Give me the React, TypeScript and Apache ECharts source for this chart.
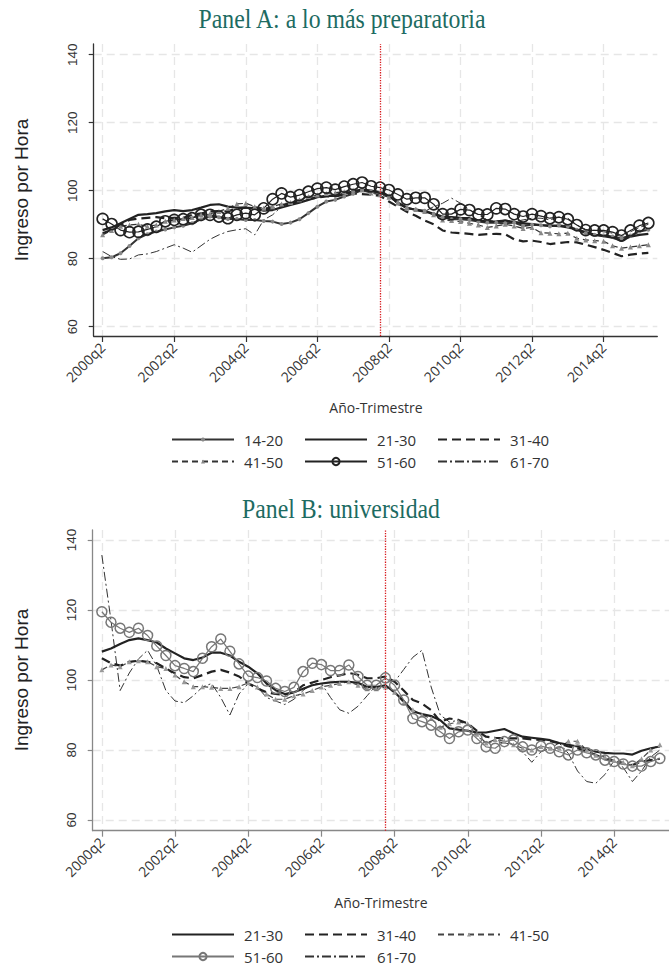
import React, { useEffect, useRef } from "react";
import * as echarts from "echarts";

// Categories: quarters 2000q1 .. 2015q4 (axis spans one quarter before first observation)
const quarters: string[] = [];
for (let y = 2000; y <= 2015; y++) for (let q = 1; q <= 4; q++) quarters.push(y + "q" + q);

const crisisQuarter = "2008q1";
const yTickValues = [60, 80, 100, 120, 140];

const titleA = "Panel A: a lo más preparatoria";
const titleB = "Panel B: universidad";
const yTitle = "Ingreso por Hora";
const xTitle = "Año-Trimestre";

// Panel A: a lo más preparatoria (2000q2 .. 2015q3)
const a1420 = [80.1, 80.4, 81.6, 83.7, 86.0, 87.2, 88.0, 88.6, 89.2, 89.7,
  90.4, 91.6, 92.4, 92.2, 91.7, 91.7, 91.4, 91.4, 91.1, 90.9,
  90.2, 90.6, 91.6, 93.4, 95.3, 96.8, 97.3, 98.3, 99.1, 100.2,
  99.8, 99.3, 98.5, 96.4, 94.8, 94.5, 94.1, 93.2, 92.2, 91.6,
  91.6, 91.4, 90.9, 90.6, 90.6, 90.4, 90.6, 89.6, 90.0, 89.8,
  89.5, 89.8, 89.5, 88.5, 87.5, 87.0, 86.8, 86.5, 86.0, 86.8,
  88.0, 88.5];
const a2130 = [88.4, 89.2, 90.4, 91.7, 92.9, 93.1, 93.4, 93.9, 94.3, 94.0,
  94.3, 95.0, 95.8, 96.0, 95.3, 95.0, 95.0, 94.8, 94.1, 94.3,
  95.1, 95.8, 96.5, 97.3, 98.1, 98.5, 98.5, 99.1, 99.8, 100.3,
  100.0, 99.6, 98.5, 96.5, 95.0, 94.3, 93.8, 93.2, 92.4, 92.2,
  92.0, 91.9, 91.3, 90.9, 91.0, 91.2, 90.8, 90.4, 90.2, 89.9,
  89.8, 89.6, 89.2, 88.6, 87.8, 87.0, 86.6, 86.2, 85.3, 86.5,
  87.0, 87.3];
const a3140 = [87.5, 88.5, 90.0, 91.4, 91.8, 92.0, 92.2, 91.9, 92.0, 92.0,
  92.9, 93.3, 93.9, 94.0, 93.9, 94.8, 95.0, 95.0, 94.5, 94.8,
  95.8, 96.3, 97.0, 97.5, 98.0, 98.3, 98.3, 98.8, 99.2, 99.0,
  98.8, 98.5, 96.8, 95.3, 93.8, 92.6, 91.2, 90.1, 88.3, 87.7,
  87.5, 87.3, 87.0, 87.2, 87.3, 87.2, 85.7, 85.1, 85.3, 84.9,
  84.3, 84.6, 84.9, 84.8, 84.1, 83.4, 82.6, 81.7, 80.7, 81.2,
  81.5, 81.7];
const a4150 = [87.0, 88.3, 89.5, 89.9, 90.1, 89.5, 89.9, 91.0, 91.4, 91.8,
  92.1, 92.9, 93.2, 93.9, 94.8, 96.1, 96.3, 95.3, 94.8, 95.3,
  96.1, 96.5, 97.3, 98.3, 98.7, 99.2, 99.4, 99.7, 100.2, 100.2,
  99.3, 98.8, 98.1, 96.4, 94.8, 94.5, 93.9, 92.9, 91.4, 91.2,
  90.9, 90.4, 89.9, 89.2, 89.6, 90.1, 89.6, 88.9, 89.2, 87.6,
  87.5, 87.3, 87.5, 86.0, 85.5, 85.3, 85.1, 83.8, 83.1, 83.4,
  83.8, 84.1];
const a5160 = [91.7, 90.2, 88.4, 87.8, 87.9, 88.6, 89.4, 91.0, 91.4, 91.6,
  91.9, 92.9, 92.9, 92.4, 91.9, 92.9, 93.4, 92.9, 94.8, 97.5,
  99.2, 98.1, 98.7, 99.7, 100.6, 100.9, 100.3, 101.2, 101.9, 102.4,
  101.3, 100.9, 100.2, 98.9, 97.5, 97.9, 97.9, 96.0, 93.1, 93.1,
  94.5, 94.3, 93.0, 93.0, 94.8, 94.6, 93.1, 92.4, 93.1, 92.5,
  91.9, 92.2, 91.6, 89.9, 88.4, 88.3, 88.3, 87.8, 86.8, 88.3,
  89.7, 90.5];
const a6170 = [82.1, 80.6, 79.8, 79.9, 81.1, 81.4, 82.1, 83.1, 84.1, 83.1,
  81.9, 83.8, 85.7, 87.0, 88.0, 88.5, 88.8, 87.0, 91.4, 92.9,
  95.3, 96.3, 97.3, 98.1, 98.7, 98.4, 99.0, 99.4, 99.7, 99.8,
  99.5, 99.0, 98.5, 95.9, 94.8, 94.4, 93.9, 95.3, 96.3, 97.8,
  96.3, 94.4, 92.9, 91.4, 90.9, 91.4, 90.9, 91.4, 91.9, 91.9,
  91.4, 92.2, 91.9, 89.9, 88.6, 88.3, 87.9, 87.5, 86.5, 87.9,
  89.2, 90.1];

// Panel B: universidad (2000q2 .. 2015q3)
const b2130 = [108.1, 109.0, 110.3, 111.4, 111.9, 111.4, 110.7, 109.0, 107.6, 106.2,
  105.7, 106.4, 107.8, 107.8, 107.0, 105.2, 103.8, 101.9, 99.0, 97.1,
  96.0, 96.5, 97.5, 98.5, 99.0, 99.3, 99.5, 99.5, 99.2, 98.0,
  98.0, 98.5, 96.5, 94.0, 91.0, 90.3, 89.7, 88.5, 86.2, 85.8,
  85.5, 85.0, 85.0, 85.5, 86.0, 84.8, 83.8, 83.5, 83.2, 82.8,
  82.0, 81.5, 81.0, 80.3, 79.5, 79.2, 79.0, 79.0, 78.7, 79.8,
  80.5, 81.0];
const b3140 = [106.2, 104.8, 104.1, 105.2, 105.5, 105.2, 104.8, 103.3, 101.9, 100.8,
  100.5, 101.4, 102.4, 102.9, 102.1, 101.0, 99.0, 97.6, 96.5, 96.0,
  95.8, 96.5, 98.5, 99.3, 100.0, 100.8, 101.3, 102.0, 101.5, 100.5,
  100.5, 101.0, 99.5, 97.0, 94.3, 93.3, 91.4, 88.1, 89.0, 88.6,
  87.6, 85.5, 83.8, 83.5, 83.3, 83.3, 83.3, 83.0, 82.9, 82.5,
  81.9, 81.0, 80.5, 79.5, 78.6, 77.5, 76.7, 76.0, 75.7, 76.7,
  77.1, 77.5];
const b4150 = [102.9, 104.3, 103.8, 105.2, 105.5, 105.2, 103.8, 103.3, 101.4, 99.5,
  98.1, 98.1, 97.9, 97.6, 97.6, 98.1, 99.2, 98.0, 96.0, 94.5,
  94.5, 95.5, 96.0, 97.0, 98.0, 98.5, 99.0, 99.5, 98.5, 97.5,
  97.5, 98.0, 96.5, 93.5, 91.5, 90.0, 89.0, 86.5, 87.5, 88.0,
  87.5, 84.5, 82.0, 83.0, 82.5, 81.5, 80.5, 80.0, 81.0, 80.5,
  80.5, 82.5, 82.5, 80.0, 78.5, 78.0, 77.0, 76.5, 75.5, 77.5,
  80.0, 81.5];
const b5160 = [119.5, 116.5, 114.8, 113.6, 114.8, 112.7, 109.7, 107.0, 104.1, 103.3,
  102.4, 106.2, 109.5, 111.7, 108.2, 104.6, 101.1, 100.7, 99.7, 97.6,
  96.7, 97.9, 102.4, 104.8, 104.4, 102.7, 102.7, 104.3, 101.0, 98.5,
  98.5, 100.6, 98.5, 94.3, 89.0, 88.1, 87.1, 85.2, 83.3, 85.2,
  85.7, 83.3, 80.9, 80.5, 82.4, 82.9, 80.9, 80.0, 81.1, 80.5,
  79.5, 78.6, 80.0, 79.2, 78.6, 77.1, 76.7, 76.0, 75.4, 75.4,
  76.7, 77.6];
const b6170 = [135.7, 117.0, 97.0, 102.0, 106.0, 108.5, 104.0, 97.0, 94.0, 93.5,
  95.5, 98.0, 99.0, 95.0, 90.0, 96.0, 99.0, 98.0, 95.0, 94.0,
  93.0, 94.5, 97.0, 99.0, 99.0, 95.0, 91.5, 90.5, 92.5, 95.5,
  98.5, 100.5, 99.5, 103.0, 106.5, 108.5, 98.0, 90.0, 88.0, 88.5,
  87.5, 84.0, 82.0, 82.5, 82.0, 81.5, 79.5, 76.5, 79.5, 80.5,
  82.0, 79.0, 74.0, 71.0, 70.5, 73.0, 77.0, 75.0, 71.0, 74.0,
  78.0, 80.0];

const isMajorTick = (_i: number, v: string) => /q2$/.test(v) && parseInt(v, 10) % 2 === 0;
const pad = (arr: number[]) => [null, ...arr];
const legendLabel = (n: string) => n.split(" ")[1];

const GRID_DASH = [8, 5];
const gridColor = "#e6e6e6";

function makeAxes(idx: number, axisColor: string, yMin: number, yMax: number) {
  const x = {
    type: "category",
    gridIndex: idx,
    data: quarters,
    boundaryGap: false,
    axisLine: { lineStyle: { color: axisColor, width: 1.3 } },
    axisTick: { interval: isMajorTick, length: 6, lineStyle: { color: axisColor, width: 1.2 } },
    axisLabel: {
      interval: isMajorTick,
      rotate: 45,
      margin: 9,
      fontFamily: "Open Sans",
      fontSize: 14,
      color: "#333",
    },
    splitLine: { show: true, interval: isMajorTick, lineStyle: { color: gridColor, type: GRID_DASH, width: 1.3 } },
  };
  const y = {
    type: "value",
    gridIndex: idx,
    min: yMin,
    max: yMax,
    axisLine: { show: true, lineStyle: { color: axisColor, width: 1.3 } },
    axisTick: { show: true, length: 5, customValues: yTickValues, lineStyle: { color: axisColor, width: 1.2 } },
    axisLabel: {
      customValues: yTickValues,
      rotate: 90,
      margin: 14,
      fontFamily: "Liberation Sans",
      fontSize: 13.5,
      color: "#333",
    },
    splitLine: { show: true, lineStyle: { color: gridColor, type: GRID_DASH, width: 1.3 } },
  };
  return { x, y };
}

const DASHDOT = [9, 3, 2, 3];

function lineSeries(name: string, data: number[], idx: number, opts: any) {
  return {
    type: "line",
    name,
    xAxisIndex: idx,
    yAxisIndex: idx,
    data: pad(data),
    symbol: "none",
    showAllSymbol: true,
    animation: false,
    ...opts,
  };
}

function crisisMark() {
  return {
    silent: true,
    symbol: ["none", "none"],
    label: { show: false },
    lineStyle: { color: "#d7191c", type: "dotted", width: 1.3 },
    data: [{ xAxis: crisisQuarter }],
  };
}

function legendItem(name: string, left: number, centerY: number, symH: number, hideSymbol: boolean) {
  return {
    data: [hideSymbol ? { name, itemStyle: { opacity: 0 } } : { name }],
    left,
    top: centerY - 9,
    padding: 0,
    itemWidth: 62,
    itemHeight: symH,
    itemGap: 0,
    selectedMode: false,
    formatter: legendLabel,
    textStyle: { fontFamily: "Open Sans", fontSize: 15, color: "#333", padding: [0, 0, 0, 5] },
  };
}

export default function App() {
  const ref = useRef<HTMLDivElement>(null);
  useEffect(() => {
    if (!ref.current) return;
    const chart = echarts.init(ref.current, undefined, { renderer: "svg" });
    const A = makeAxes(0, "#333", 57.25, 143.15);
    const B = makeAxes(1, "#888", 56.95, 142.85);

    const series = [
      // Panel A
      lineSeries("A 61-70", a6170, 0, { itemStyle: { color: "#333" }, lineStyle: { color: "#333", width: 1, type: DASHDOT } }),
      lineSeries("A 41-50", a4150, 0, {
        symbol: "triangle", symbolSize: 5,
        itemStyle: { color: "#888" },
        lineStyle: { color: "#333", width: 1.2, type: [6, 4] },
      }),
      lineSeries("A 31-40", a3140, 0, { itemStyle: { color: "#222" }, lineStyle: { color: "#222", width: 2.2, type: [9, 5] } }),
      lineSeries("A 14-20", a1420, 0, {
        symbol: "circle", symbolSize: 4,
        itemStyle: { color: "#888" },
        lineStyle: { color: "#333", width: 2 },
      }),
      lineSeries("A 21-30", a2130, 0, { itemStyle: { color: "#222" }, lineStyle: { color: "#222", width: 2.2 }, markLine: crisisMark() }),
      lineSeries("A 51-60", a5160, 0, {
        symbol: "circle", symbolSize: 11,
        itemStyle: { color: "rgba(255,255,255,0)", borderColor: "#222", borderWidth: 1.6 },
        lineStyle: { color: "#222", width: 1.2 },
      }),
      // Panel B
      lineSeries("B 61-70", b6170, 1, { itemStyle: { color: "#333" }, lineStyle: { color: "#333", width: 1, type: DASHDOT } }),
      lineSeries("B 41-50", b4150, 1, {
        symbol: "triangle", symbolSize: 5,
        itemStyle: { color: "#999" },
        lineStyle: { color: "#444", width: 1.2, type: [6, 4] },
      }),
      lineSeries("B 31-40", b3140, 1, { itemStyle: { color: "#222" }, lineStyle: { color: "#222", width: 2.2, type: [9, 5] } }),
      lineSeries("B 21-30", b2130, 1, { itemStyle: { color: "#222" }, lineStyle: { color: "#222", width: 2.2 }, markLine: crisisMark() }),
      lineSeries("B 51-60", b5160, 1, {
        symbol: "circle", symbolSize: 10,
        itemStyle: { color: "rgba(255,255,255,0)", borderColor: "#777", borderWidth: 1.5 },
        lineStyle: { color: "#777", width: 1.2 },
      }),
    ];

    const colX = [171, 304, 437];
    const legends = [
      legendItem("A 14-20", colX[0], 441, 5, false),
      legendItem("A 21-30", colX[1], 441, 9, true),
      legendItem("A 31-40", colX[2], 441, 9, true),
      legendItem("A 41-50", colX[0], 463, 5, false),
      legendItem("A 51-60", colX[1], 463, 9, false),
      legendItem("A 61-70", colX[2], 463, 9, true),
      legendItem("B 21-30", colX[0], 936, 9, true),
      legendItem("B 31-40", colX[1], 936, 9, true),
      legendItem("B 41-50", colX[2], 936, 5, false),
      legendItem("B 51-60", colX[0], 958, 9, false),
      legendItem("B 61-70", colX[1], 958, 9, true),
    ];

    const titleStyle = { font: "27px 'Liberation Serif'", fill: "#1d6b62", textAlign: "center", textVerticalAlign: "middle" };
    const yTitleStyle = { font: "19px 'Liberation Sans'", fill: "#222", textAlign: "center", textVerticalAlign: "middle" };
    const xTitleStyle = { font: "14px 'Open Sans'", fill: "#333", textAlign: "center", textVerticalAlign: "middle" };

    chart.setOption({
      animation: false,
      backgroundColor: "#fff",
      grid: [
        { left: 93.7, top: 44, width: 563.6, height: 292 },
        { left: 92.7, top: 530, width: 579, height: 300.7 },
      ],
      xAxis: [A.x, B.x],
      yAxis: [A.y, B.y],
      legend: legends,
      series,
      graphic: [
        { type: "text", x: 342, y: 19, scaleX: 0.88, style: { text: titleA, ...titleStyle } },
        { type: "text", x: 341, y: 509, scaleX: 0.88, style: { text: titleB, ...titleStyle } },
        { type: "text", x: 21, y: 190, rotation: Math.PI / 2, style: { text: yTitle, ...yTitleStyle } },
        { type: "text", x: 21, y: 680, rotation: Math.PI / 2, style: { text: yTitle, ...yTitleStyle } },
        { type: "text", x: 376, y: 407, style: { text: xTitle, ...xTitleStyle } },
        { type: "text", x: 381, y: 902, style: { text: xTitle, ...xTitleStyle } },
      ],
    });
    return () => chart.dispose();
  }, []);
  return <div ref={ref} style={{ position: "absolute", left: 0, top: 0, width: 669, height: 966 }} />;
}
